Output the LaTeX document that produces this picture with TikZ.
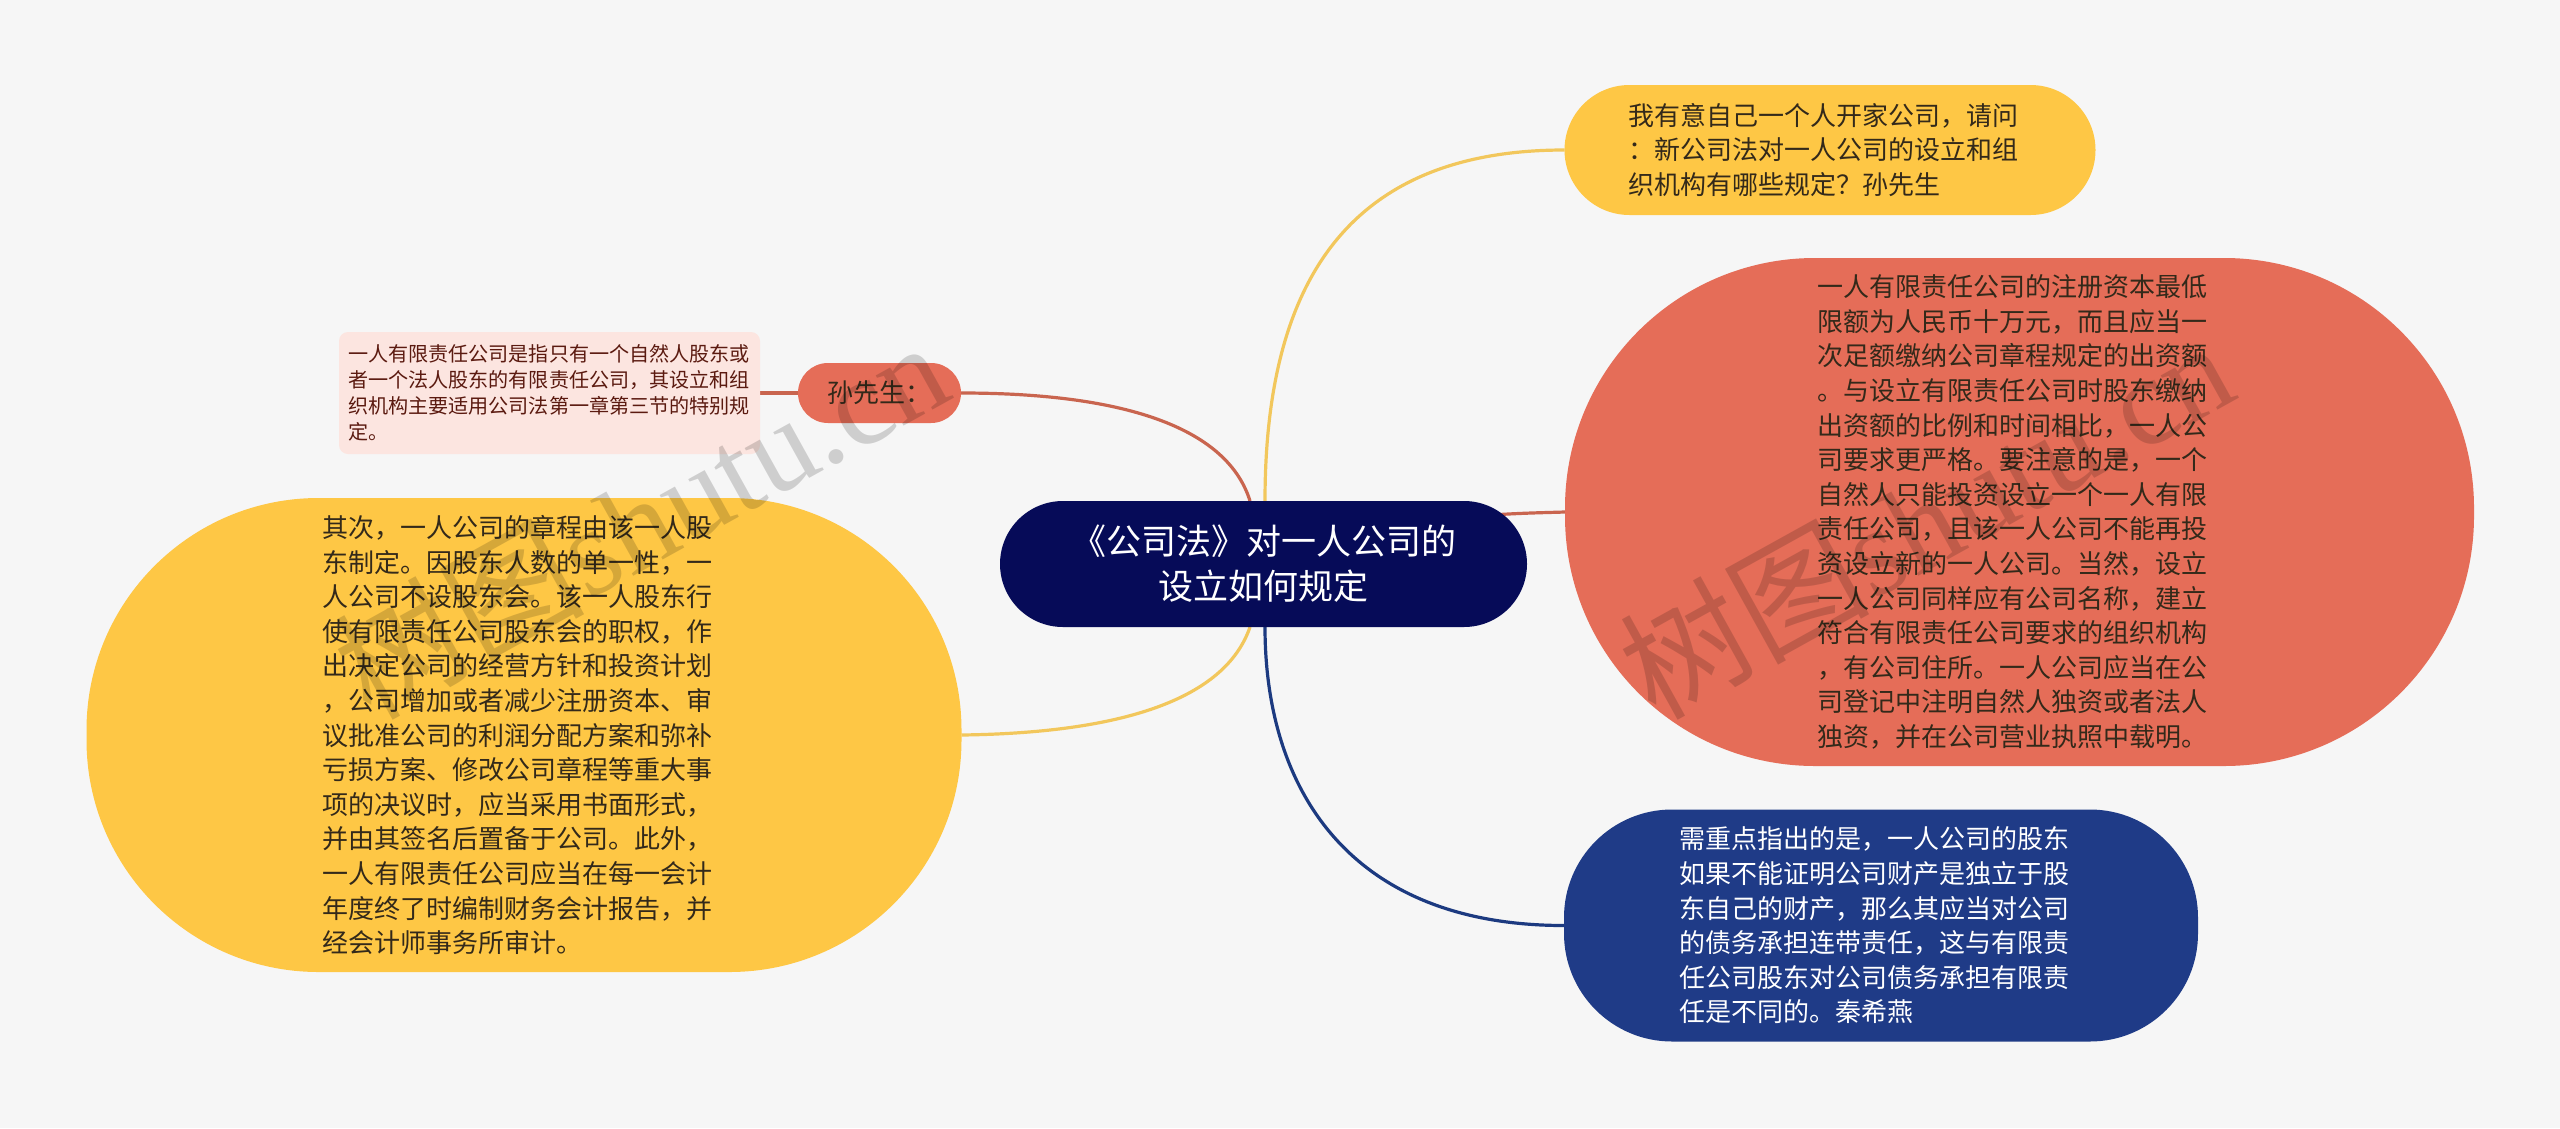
\documentclass[tikz,border=0pt]{standalone}
\usepackage{fontspec}
\setmainfont{Noto Sans CJK SC}
\newfontfamily\wmlatin{Liberation Serif}
\usetikzlibrary{backgrounds}
\definecolor{bgc}{HTML}{F6F6F6}
\definecolor{navy}{HTML}{060B58}
\definecolor{yel}{HTML}{FEC745}
\definecolor{yelline}{HTML}{F2C75C}
\definecolor{redn}{HTML}{E56D58}
\definecolor{redline}{HTML}{C9654F}
\definecolor{bluen}{HTML}{1F3B87}
\definecolor{blueline}{HTML}{1C3A80}
\definecolor{pinkn}{HTML}{FCE5E0}
\definecolor{pinktxt}{HTML}{5B1A10}
\definecolor{darktxt}{HTML}{33291A}
\tikzset{
  x=1pt,y=-1pt,
  box/.style={inner sep=0pt,outer sep=0pt,align=left,text width=404pt,font=\fontsize{26}{34.6}\selectfont},
  conn/.style={line width=3.2pt},
  wm/.style={font=\fontsize{125}{125}\selectfont,text=black,opacity=0.16,rotate=29,anchor=base west,inner sep=0pt}
}
\begin{document}
\begin{tikzpicture}
\useasboundingbox (0,0) rectangle (2560,1128);
\begin{scope}[on background layer]
\fill[bgc] (0,0) rectangle (2560,1128);
\end{scope}
\node[inner sep=0pt,outer sep=0pt,minimum width=527pt,minimum height=126pt,rounded corners=63pt,fill=navy,text=white,align=center,font=\fontsize{35}{45}\selectfont] (root) at (1263.5,564) {《公司法》对一人公司的\\设立如何规定};
\node[box,minimum width=531pt,minimum height=130pt,rounded corners=65pt,fill=yel,text=darktxt] (q) at (1830,150) {我有意自己一个人开家公司，请问\\：新公司法对一人公司的设立和组\\织机构有哪些规定？孙先生};
\node[box,minimum width=909pt,minimum height=508pt,rounded corners=250pt,fill=redn,text=darktxt] (cap) at (2019.5,512) {一人有限责任公司的注册资本最低\\限额为人民币十万元，而且应当一\\次足额缴纳公司章程规定的出资额\\。与设立有限责任公司时股东缴纳\\出资额的比例和时间相比，一人公\\司要求更严格。要注意的是，一个\\自然人只能投资设立一个一人有限\\责任公司，且该一人公司不能再投\\资设立新的一人公司。当然，设立\\一人公司同样应有公司名称，建立\\符合有限责任公司要求的组织机构\\，有公司住所。一人公司应当在公\\司登记中注明自然人独资或者法人\\独资，并在公司营业执照中载明。};
\node[box,minimum width=634pt,minimum height=232pt,rounded corners=108pt,fill=bluen,text=white] (debt) at (1881,925.5) {需重点指出的是，一人公司的股东\\如果不能证明公司财产是独立于股\\东自己的财产，那么其应当对公司\\的债务承担连带责任，这与有限责\\任公司股东对公司债务承担有限责\\任是不同的。秦希燕};
\node[box,minimum width=875pt,minimum height=474pt,rounded corners=232pt,fill=yel,text=darktxt] (gov) at (524,735) {其次，一人公司的章程由该一人股\\东制定。因股东人数的单一性，一\\人公司不设股东会。该一人股东行\\使有限责任公司股东会的职权，作\\出决定公司的经营方针和投资计划\\，公司增加或者减少注册资本、审\\议批准公司的利润分配方案和弥补\\亏损方案、修改公司章程等重大事\\项的决议时，应当采用书面形式，\\并由其签名后置备于公司。此外，\\一人有限责任公司应当在每一会计\\年度终了时编制财务会计报告，并\\经会计师事务所审计。};
\node[inner sep=0pt,outer sep=0pt,minimum width=163pt,minimum height=60pt,rounded corners=30pt,fill=redn,text=darktxt,align=center,font=\fontsize{26}{34}\selectfont] (sun) at (879.5,393) {孙先生：};
\node[inner sep=0pt,outer sep=0pt,minimum width=421pt,minimum height=122pt,rounded corners=9pt,fill=pinkn,text=pinktxt,align=left,text width=403pt,font=\fontsize{20.1}{26}\selectfont] (def) at (549.5,393) {一人有限责任公司是指只有一个自然人股东或\\者一个法人股东的有限责任公司，其设立和组\\织机构主要适用公司法第一章第三节的特别规\\定。};
\begin{scope}[on background layer]
\draw[conn,yelline] ([xshift=1.5pt]root.north) .. controls (1265,280) and (1350,150) .. (q.west);
\draw[conn,redline] ([xshift=-13.5pt]root.north) .. controls (1228,430) and (1130,393) .. (sun.east);
\draw[conn,redline] (root.center) .. controls (1400,514) and (1500,514) .. (cap.west);
\draw[conn,yelline] ([xshift=-13.5pt]root.south) .. controls (1225,700) and (1120,733) .. (gov.east);
\draw[conn,blueline] ([xshift=1.5pt]root.south) .. controls (1265,790) and (1350,925.5) .. (debt.west);
\draw[conn,redline] (sun.west) -- (def.east);
\end{scope}
\node[wm] (wm1) at (370,722) {树图{\wmlatin shutu.cn}};
\node[wm] (wm2) at (1655,722) {树图{\wmlatin shutu.cn}};
\end{tikzpicture}
\end{document}
